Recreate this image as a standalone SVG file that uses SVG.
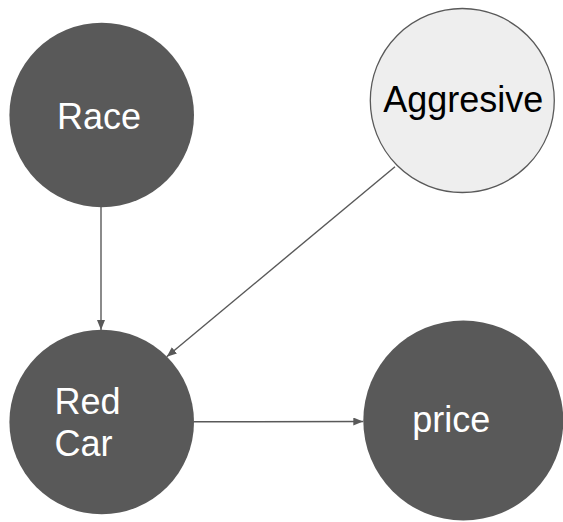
<svg xmlns="http://www.w3.org/2000/svg" width="563" height="522" viewBox="0 0 563 522">
<style>
.dark{fill:#595959;stroke:none}
.light{fill:#eeeeee;stroke:#595959;stroke-width:1.3}
.lbl{font-family:"Liberation Sans",Arial,sans-serif;font-size:36px}
.w{fill:#ffffff}
.b{fill:#000000}
.edge{stroke:#595959;stroke-width:1.4;fill:none;marker-end:url(#ah)}
</style>
<defs>
<marker id="ah" markerWidth="10" markerHeight="8" refX="10" refY="4" orient="auto" markerUnits="userSpaceOnUse">
<path d="M0,0 L10,4 L0,8 Z" fill="#595959"/>
</marker>
</defs>
<rect width="563" height="522" fill="#ffffff"/>
<g id="connectors">
<line class="edge" x1="101" y1="207" x2="101" y2="330"/>
<line class="edge" x1="395" y1="166.7" x2="166.7" y2="356.7"/>
<line class="edge" x1="194" y1="421.8" x2="363.3" y2="421.5"/>
</g>
<g id="race">
<circle class="dark" cx="101.7" cy="115" r="92.3"/>
<text class="lbl w" x="99" y="129" text-anchor="middle">Race</text>
</g>
<g id="aggresive">
<circle class="light" cx="462.3" cy="100.5" r="92"/>
<text class="lbl b" x="463.3" y="112" text-anchor="middle">Aggresive</text>
</g>
<g id="redcar">
<circle class="dark" cx="101.7" cy="422" r="92.3"/>
<text class="lbl w" x="54.5" y="414">Red</text>
<text class="lbl w" x="54.5" y="456">Car</text>
</g>
<g id="price">
<circle class="dark" cx="463.3" cy="420.5" r="100"/>
<text class="lbl w" x="451.3" y="432" text-anchor="middle">price</text>
</g>
</svg>
